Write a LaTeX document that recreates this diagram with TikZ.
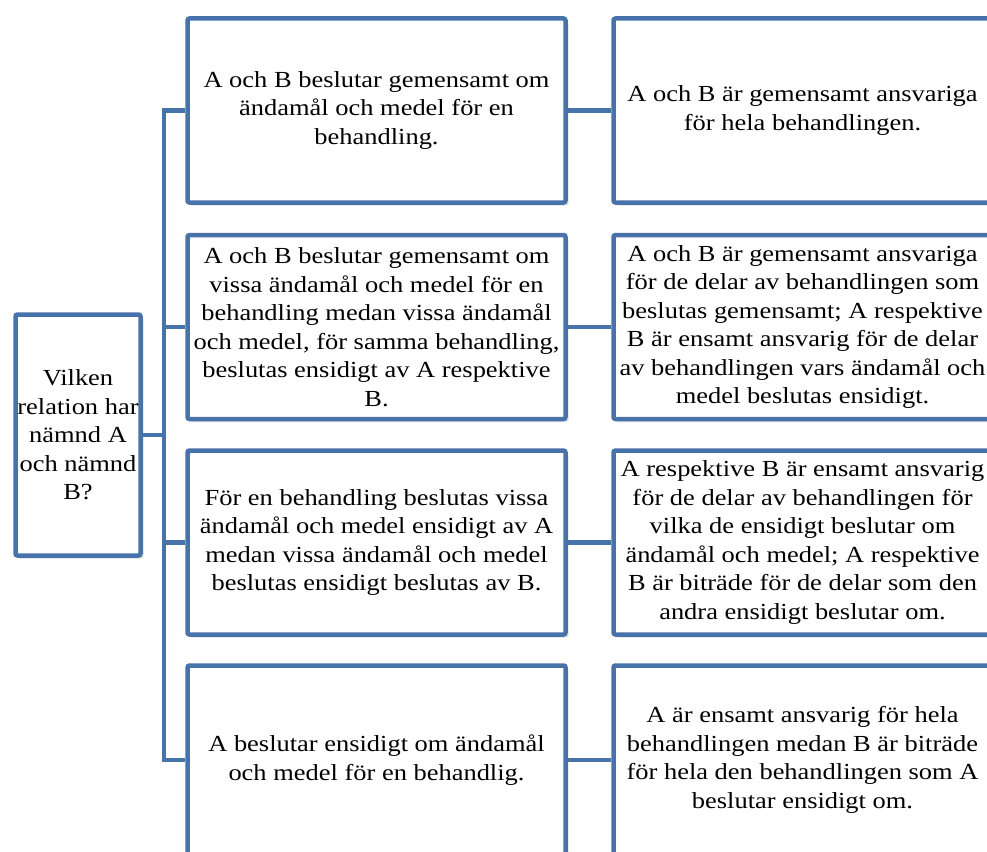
\documentclass[tikz,border=0pt]{standalone}
\usepackage{fontspec}
\setmainfont{Liberation Serif}[FakeStretch=1.15]
\usepackage{tikz}
\usetikzlibrary{shadows}
\definecolor{boxblue}{RGB}{72,115,170}

\begin{document}
\begin{tikzpicture}[x=1pt,y=-1pt,
  box/.style={draw=boxblue,line width=4.5pt,fill=white,rounded corners=2pt,align=center,inner sep=0pt,
    font=\fontsize{23}{28.5}\selectfont,drop shadow={opacity=0.25,shadow xshift=3pt,shadow yshift=-3pt}},
  wide/.style={box,minimum width=378pt,minimum height=184pt},
  link/.style={draw=boxblue,line width=4.5pt}]
\useasboundingbox (0,0) rectangle (987,851);

\node [box,minimum width=125pt,minimum height=241pt] (q) at (78,435) {Vilken\\relation har\\nämnd A\\och nämnd\\B?};

\node [wide] (m1) at (376.5,110.5) {A och B beslutar gemensamt om\\ändamål och medel för en\\behandling.};
\node [wide] (m2) at (376.5,327) {A och B beslutar gemensamt om\\vissa ändamål och medel för en\\behandling medan vissa ändamål\\och medel, för samma behandling,\\beslutas ensidigt av A respektive\\B.};
\node [wide] (m3) at (376.5,542.5) {För en behandling beslutas vissa\\ändamål och medel ensidigt av A\\medan vissa ändamål och medel\\beslutas ensidigt beslutas av B.};
\node [wide,minimum height=189pt] (m4) at (376.5,760) {A beslutar ensidigt om ändamål\\och medel för en behandlig.};

\node [wide] (r1) at (802.5,110.5) {A och B är gemensamt ansvariga\\för hela behandlingen.};
\node [wide] (r2) at (802.5,327) {A och B är gemensamt ansvariga\\för de delar av behandlingen som\\beslutas gemensamt; A respektive\\B är ensamt ansvarig för de delar\\av behandlingen vars ändamål och\\medel beslutas ensidigt.};
\node [wide] (r3) at (802.5,542.5) {A respektive B är ensamt ansvarig\\för de delar av behandlingen för\\vilka de ensidigt beslutar om\\ändamål och medel; A respektive\\B är biträde för de delar som den\\andra ensidigt beslutar om.};
\node [wide,minimum height=189pt] (r4) at (802.5,760) {A är ensamt ansvarig för hela\\behandlingen medan B är biträde\\för hela den behandlingen som A\\beslutar ensidigt om.};

\coordinate (trunk) at (164,435);
\draw [link] (q.east) -- (trunk) |- (m1.west);
\draw [link] (trunk) |- (m2.west);
\draw [link] (trunk) |- (m3.west);
\draw [link] (trunk) |- (m4.west);

\draw [link] (m1.east) -- (r1.west);
\draw [link] (m2.east) -- (r2.west);
\draw [link] (m3.east) -- (r3.west);
\draw [link] (m4.east) -- (r4.west);

\end{tikzpicture}
\end{document}
